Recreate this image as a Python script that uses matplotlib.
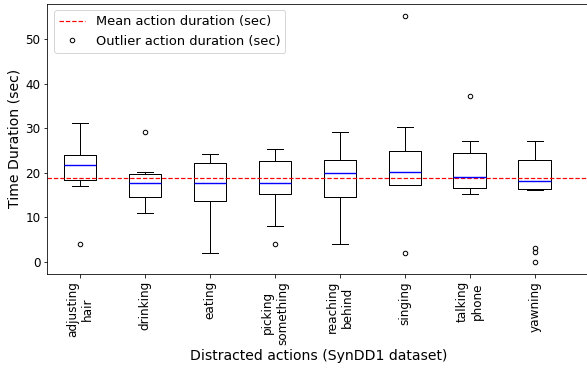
import matplotlib
matplotlib.use("Agg")
import matplotlib.pyplot as plt
from matplotlib.lines import Line2D

# Box statistics (seconds)
actions = ["adjusting\nhair", "drinking", "eating", "picking\nsomething",
           "reaching\nbehind", "singing", "talking\nphone", "yawning"]
whisker_low = [17.0, 11.0, 2.0, 8.0, 4.0, 17.2, 15.1, 16.1]
q1 = [18.4, 14.6, 13.6, 15.3, 14.6, 17.3, 16.6, 16.4]
median = [21.6, 17.6, 17.6, 17.6, 20.0, 20.1, 19.1, 18.2]
q3 = [23.9, 19.6, 22.1, 22.6, 22.9, 24.8, 24.4, 22.9]
whisker_high = [31.1, 20.2, 24.2, 25.2, 29.1, 30.2, 27.1, 27.1]
outliers = [[4.0], [29.1], [], [4.0], [], [2.0, 55.2], [37.2], [3.1, 2.1, 0.0]]
mean_duration = 18.7

stats = []
for i, name in enumerate(actions):
    stats.append({
        "label": name,
        "whislo": whisker_low[i],
        "q1": q1[i],
        "med": median[i],
        "q3": q3[i],
        "whishi": whisker_high[i],
        "fliers": outliers[i],
    })

fig = plt.figure(figsize=(587 / 72, 369 / 72), dpi=72)
ax = fig.add_axes([0.0809, 0.2575, 0.924, 0.733])

ax.bxp(stats, widths=0.5, showfliers=True,
       boxprops=dict(color="black", linewidth=1.0),
       whiskerprops=dict(color="black", linewidth=1.0),
       capprops=dict(color="black", linewidth=1.0),
       medianprops=dict(color="blue", linewidth=1.4, zorder=3),
       flierprops=dict(marker="o", markerfacecolor="none",
                       markeredgecolor="black", markersize=4.5))
ax.axhline(mean_duration, color="red", linestyle="--", linewidth=1.2)

ax.set_xlim(0.5, 8.85)
ax.tick_params(axis="x", labelrotation=90, labelsize=12)
ax.tick_params(axis="y", labelsize=12)
ax.set_xlabel("Distracted actions (SynDD1 dataset)", fontsize=14, labelpad=4)
ax.set_ylabel("Time Duration (sec)", fontsize=14)

handles = [
    Line2D([], [], color="red", linestyle="--", linewidth=1.2),
    Line2D([], [], linestyle="none", marker="o", markerfacecolor="none",
           markeredgecolor="black", markersize=4.5),
]
ax.legend(handles, ["Mean action duration (sec)", "Outlier action duration (sec)"],
          loc="upper left", fontsize=13)

fig.savefig("out.png", dpi=72, facecolor="white")
